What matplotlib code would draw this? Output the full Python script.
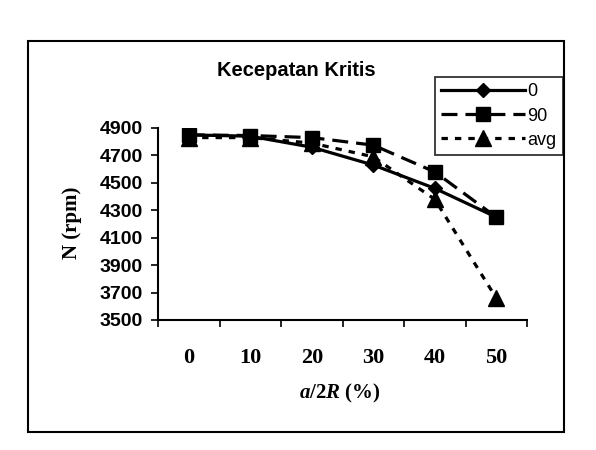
"""
plot.py - critical speed vs a/2R for three orientations (Excel-style chart).
"""
import matplotlib
matplotlib.use("Agg")
import matplotlib.pyplot as plt
from matplotlib.patches import Rectangle
import numpy as np

plt.rcParams["mathtext.fontset"] = "custom"
plt.rcParams["mathtext.it"] = "Liberation Serif:italic:bold"
plt.rcParams["mathtext.bf"] = "Liberation Serif:bold"
plt.rcParams["mathtext.rm"] = "Liberation Serif:bold"

categories = ["0", "10", "20", "30", "40", "50"]
speed_0 = [4850, 4840, 4760, 4630, 4460, 4250]
speed_90 = [4850, 4845, 4830, 4775, 4580, 4250]
speed_avg = [4830, 4830, 4790, 4690, 4380, 3660]
yticks = [3500, 3700, 3900, 4100, 4300, 4500, 4700, 4900]

W, H = 596, 450
fig = plt.figure(figsize=(W / 100, H / 100), dpi=100)

# outer chart frame
fig.patches.append(Rectangle((28 / W, 1 - 432 / H), (564 - 28) / W, (432 - 41) / H,
                             transform=fig.transFigure, fill=False,
                             edgecolor="black", linewidth=1.5))

ax = fig.add_axes([158 / W, 1 - 320 / H, (527 - 158) / W, (320 - 128) / H])
x = np.arange(len(categories))

ax.plot(x, speed_0, color="black", linestyle="-", linewidth=2.3,
        marker="D", markersize=7, label="0")
ax.plot(x, speed_90, color="black", linestyle=(0, (5, 2.5)), linewidth=2.3,
        marker="s", markersize=10, label="90")
ax.plot(x, speed_avg, color="black", linestyle=(0, (2, 2.2)), linewidth=2.3,
        marker="^", markersize=12, label="avg")

ax.set_xlim(-0.5, len(categories) - 0.5)
ax.set_ylim(3500, 4900)
ax.set_yticks(yticks)
ax.set_yticklabels([str(v) for v in yticks], fontfamily="Liberation Sans",
                   fontweight="bold", fontsize=14)

# Excel category axis: ticks between categories, labels centred
ax.set_xticks(np.arange(-0.5, len(categories), 1.0))
ax.set_xticklabels([])
ax.set_xticks(x, minor=True)
ax.set_xticklabels(categories, minor=True, fontfamily="Liberation Serif",
                   fontweight="bold", fontsize=16)
ax.tick_params(axis="x", which="minor", length=0, pad=20)
ax.tick_params(axis="x", which="major", direction="out", length=5, width=1.2)
ax.tick_params(axis="y", direction="out", length=5, width=1.2, pad=6)

for side in ("top", "right"):
    ax.spines[side].set_visible(False)
for side in ("left", "bottom"):
    ax.spines[side].set_linewidth(1.5)

fig.text(296 / W, 1 - 70 / H, "Kecepatan Kritis", ha="center", va="center",
         fontfamily="Liberation Sans", fontweight="bold", fontsize=14.5)
fig.text(340 / W, 1 - 393 / H, r"$\mathit{a}/2\mathit{R}$ (%)",
         ha="center", va="center", fontfamily="Liberation Serif",
         fontweight="bold", fontsize=15)
fig.text(72 / W, 1 - 223 / H, "N (rpm)", ha="center", va="center",
         rotation=90, fontfamily="Liberation Serif", fontweight="bold",
         fontsize=15)

leg = ax.legend(loc="upper left", bbox_to_anchor=(435 / W, 1 - 77 / H),
                bbox_transform=fig.transFigure, frameon=True, fancybox=False,
                prop={"family": "Liberation Sans", "size": 13},
                handlelength=4.65, handletextpad=0.1, borderpad=0.35,
                labelspacing=0.4, borderaxespad=0)
leg.get_frame().set_edgecolor("black")
leg.get_frame().set_linewidth(1.3)

fig.savefig("out.png", dpi=100)
